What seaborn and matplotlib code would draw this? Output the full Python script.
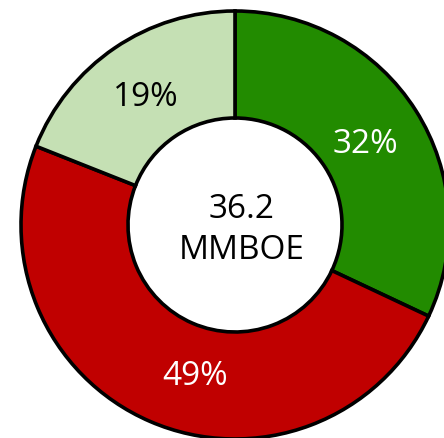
import matplotlib
matplotlib.use("Agg")
import matplotlib.pyplot as plt
import seaborn as sns

# datos del grafico de dona
categorias = ["Verde", "Rojo", "Verde claro"]
porcentajes = [32, 49, 19]
colores = ["#228B00", "#C00000", "#C5E0B4"]
colores_texto = ["white", "white", "black"]
total_texto = "36.2\nMMBOE"

sns.set_theme(style="white")
plt.rcParams["font.family"] = ["Open Sans", "DejaVu Sans"]

fig = plt.figure(figsize=(4.44, 4.38), dpi=100)
ax = fig.add_axes([0, 0, 1, 1])

# radio en pixeles (1 unidad = 1 px)
r_ext = 214
ancho = 107

wedges, textos, autotextos = ax.pie(
    porcentajes,
    colors=colores,
    startangle=90,
    counterclock=False,
    radius=r_ext,
    autopct="%d%%",
    pctdistance=0.75,
    wedgeprops=dict(width=ancho, edgecolor="black", linewidth=2.6),
    textprops=dict(fontsize=24),
)

for t, c in zip(autotextos, colores_texto):
    t.set_color(c)
# ajustes manuales de etiquetas segun el original
x, y = autotextos[1].get_position()
autotextos[1].set_position((x + 24, y - 4))
x, y = autotextos[0].get_position()
autotextos[0].set_position((x - 5, y - 6))
x, y = autotextos[2].get_position()
autotextos[2].set_position((x + 1, y - 5))

ax.text(7, -5, total_texto, ha="center", va="center", fontsize=24,
        color="black", linespacing=1.35)

ax.set_xlim(-235, 444 - 235)
ax.set_ylim(-(438 - 225), 225)
ax.set_aspect("auto")
ax.axis("off")

fig.savefig("out.png", dpi=100)
